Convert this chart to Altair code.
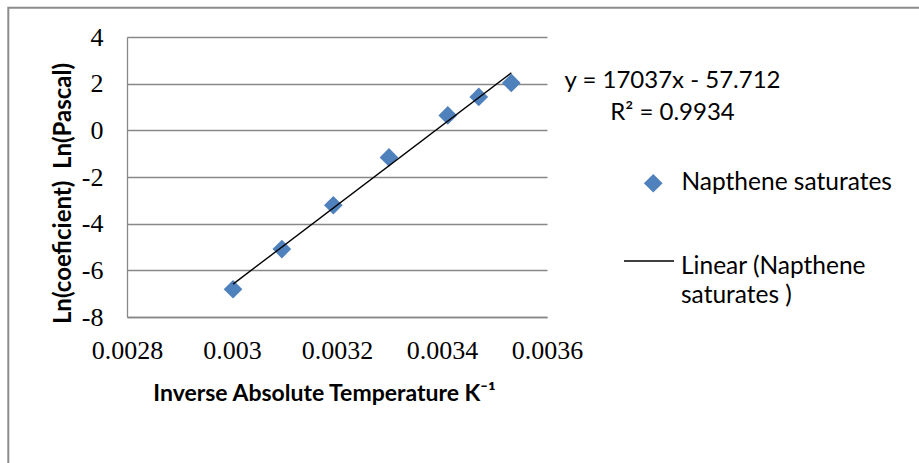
import json
import altair as alt
import pandas as pd

# ---- data ----
inv_temp = [0.003002, 0.003095, 0.003193, 0.003299, 0.003411, 0.00347, 0.003532]
ln_coef = [-6.81, -5.09, -3.21, -1.16, 0.64, 1.43, 2.03]
series_name = "Napthene saturates"
fit_label_lines = ["Linear (Napthene", "saturates )"]
fit_name = " ".join(fit_label_lines)
equation_lines = ["y = 17037x - 57.712", "R² = 0.9934"]
x_ticks = [0.0028, 0.003, 0.0032, 0.0034, 0.0036]
y_ticks = [-8, -6, -4, -2, 0, 2, 4]
x_title = "Inverse Absolute Temperature K⁻¹"
y_title = "Ln(coeficient)\u00a0 Ln(Pascal)"

df = pd.DataFrame({"x": inv_temp, "y": ln_coef, "series": series_name})

# ---- styling ----
W, H = 420, 280
PAD_L, PAD_T = 127, 37
SANS = "Lato"
SERIF = "Liberation Serif"
BLUE = "#4F81BD"
GRID = "#888888"

xscale = alt.Scale(domain=[x_ticks[0], x_ticks[-1]], nice=False, zero=False)
yscale = alt.Scale(domain=[y_ticks[0], y_ticks[-1]], nice=False, zero=False)

xaxis = alt.Axis(
    values=x_ticks, labelExpr="toString(datum.value)", grid=False, ticks=False, tickSize=0,
    domainColor=GRID, domainWidth=1.3, labelFont=SERIF, labelFontSize=26, labelColor="black",
    labelPadding=20, labelFlush=False, labelOverlap=False,
    title=x_title, titleFont=SANS, titleFontSize=23, titleFontWeight="bold", titleColor="black",
    titleX=197, titleY=83, titleBaseline="alphabetic", titleAlign="center",
)
yaxis = alt.Axis(
    values=y_ticks, labelExpr="toString(datum.value)", grid=True, gridColor=GRID, gridWidth=1.3,
    ticks=False, tickSize=0, domainColor=GRID, domainWidth=1.3,
    labelFont=SERIF, labelFontSize=26, labelColor="black", labelPadding=24,
    labelFlush=False, labelOverlap=False,
    title=y_title, titleFont=SANS, titleFontSize=24, titleFontWeight="bold", titleColor="black",
    titleX=-57, titleY=156, titleAngle=270, titleBaseline="alphabetic", titleAlign="center",
)

points = alt.Chart(df).mark_point(shape="diamond", filled=True, size=350, opacity=1).encode(
    x=alt.X("x:Q", scale=xscale, axis=xaxis),
    y=alt.Y("y:Q", scale=yscale, axis=yaxis),
    color=alt.Color(
        "series:N",
        scale=alt.Scale(domain=[series_name], range=[BLUE]),
        legend=alt.Legend(
            orient="none", legendX=514, legendY=134, title=None, padding=0,
            symbolType="diamond", symbolSize=350, symbolStrokeWidth=0, symbolOpacity=1,
            labelFont=SANS, labelFontSize=24.5, labelColor="black", labelOffset=16,
            labelLimit=400,
        ),
    ),
)

fit = (
    alt.Chart(df)
    .transform_regression("x", "y")
    .transform_calculate(fit=json.dumps(fit_name))
    .mark_line(strokeWidth=1.4)
    .encode(
        x=alt.X("x:Q", scale=xscale),
        y=alt.Y("y:Q", scale=yscale),
        color=alt.Color(
            "fit:N",
            scale=alt.Scale(domain=[fit_name], range=["black"]),
            legend=alt.Legend(
                orient="none", legendX=496, legendY=192, title=None, padding=0,
                symbolType="M-1,0.24L1,0.24", symbolSize=2500, symbolStrokeWidth=1.5,
                labelFont=SANS, labelFontSize=24.5, labelColor="black", labelOffset=6,
                labelLimit=400,
                labelExpr=json.dumps(fit_label_lines),
                labelBaseline="top",
            ),
        ),
    )
)

equation = alt.Chart(pd.DataFrame({"k": [0]})).mark_text(
    align="center", baseline="middle", font=SANS, fontSize=24, color="black",
    lineHeight=32, text=equation_lines,
).encode(x=alt.value(545.5), y=alt.value(44))

border = alt.Chart(pd.DataFrame({"k": [0]})).mark_rect(
    fill=None, stroke="#8c8c8c", strokeWidth=2
).encode(
    x=alt.value(8.3 - PAD_L), x2=alt.value(950 - PAD_L),
    y=alt.value(7.8 - PAD_T), y2=alt.value(500 - PAD_T),
)

chart = (
    alt.layer(border, points, fit, equation)
    .resolve_scale(color="independent")
    .properties(
        width=W, height=H,
        padding={"left": PAD_L, "top": PAD_T, "right": 919 - PAD_L - W, "bottom": 463 - PAD_T - H},
        autosize=alt.AutoSizeParams(type="none"),
        background="white",
    )
    .configure(style={"guide-label": {"lineHeight": 29}})
    .configure_view(stroke=None)
)

chart.save("out.html", embed_options={"renderer": "svg", "actions": False})
